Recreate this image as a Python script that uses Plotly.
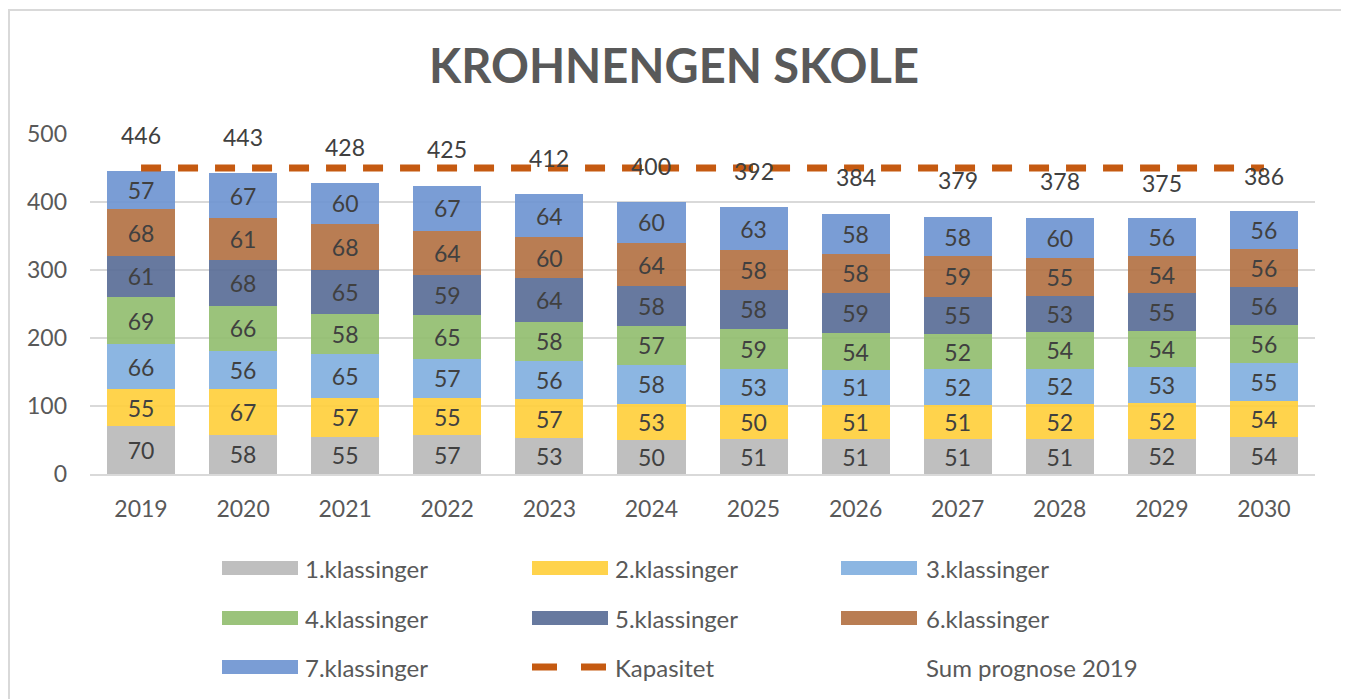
import plotly.graph_objects as go

years = ["2019", "2020", "2021", "2022", "2023", "2024", "2025", "2026", "2027", "2028", "2029", "2030"]
k1 = [70, 58, 55, 57, 53, 50, 51, 51, 51, 51, 52, 54]
k2 = [55, 67, 57, 55, 57, 53, 50, 51, 51, 52, 52, 54]
k3 = [66, 56, 65, 57, 56, 58, 53, 51, 52, 52, 53, 55]
k4 = [69, 66, 58, 65, 58, 57, 59, 54, 52, 54, 54, 56]
k5 = [61, 68, 65, 59, 64, 58, 58, 59, 55, 53, 55, 56]
k6 = [68, 61, 68, 64, 60, 64, 58, 58, 59, 55, 54, 56]
k7 = [57, 67, 60, 67, 64, 60, 63, 58, 58, 60, 56, 56]
totals = [446, 443, 428, 425, 412, 400, 392, 384, 379, 378, 375, 386]
capacity = [450] * 12

series_names = ["1.klassinger", "2.klassinger", "3.klassinger", "4.klassinger",
                "5.klassinger", "6.klassinger", "7.klassinger"]
series_vals = [k1, k2, k3, k4, k5, k6, k7]
colors = ["rgba(184,184,184,0.9)", "rgba(255,206,57,0.9)", "rgba(128,174,223,0.9)",
          "rgba(144,189,109,0.9)", "rgba(87,106,149,0.9)", "rgba(177,111,64,0.9)",
          "rgba(108,146,208,0.9)"]
cap_color = "#C55A11"
FONT = "Lato"

# page body has an 8px margin: positions below are screen pixels, shifted by OFF
OFF = 8
L, R, T, B = 90 - OFF, 1315 - OFF, 134 - OFF, 474 - OFF
W, H = 1349 - OFF, 699 - OFF


def xp(px):
    return (px - OFF - L) / (R - L)


def yp(py):
    return (B - (py - OFF)) / (B - T)


fig = go.Figure()
for name, vals, col in zip(series_names, series_vals, colors):
    fig.add_trace(go.Bar(
        x=years, y=vals, name=name, marker=dict(color=col, line=dict(width=0)),
        text=[str(v) for v in vals], textposition="inside", insidetextanchor="middle",
        textfont=dict(family=FONT, size=23, color="#404040"), constraintext="none",
        showlegend=False, hoverinfo="skip"))

fig.add_trace(go.Scatter(
    x=years, y=capacity, mode="lines", name="Kapasitet",
    line=dict(color=cap_color, width=7, dash="20px,17px"), showlegend=False, hoverinfo="skip"))

annotations = []
for i, t in enumerate(totals):
    annotations.append(dict(x=i, y=t, xref="x", yref="y", text=str(t), showarrow=False,
                            yshift=36, font=dict(family=FONT, size=23, color="#404040")))

shapes = []
# outer border
shapes.append(dict(type="rect", xref="paper", yref="paper", x0=xp(9), x1=xp(1342),
                   y0=yp(720), y1=yp(10), line=dict(color="#D9D9D9", width=2), layer="below"))

# manual legend (Excel style)
col_sw = [222, 532, 841]
col_tx = [303, 613, 924]
row_y = [568, 618, 667]
legend_items = [(n, c, "bar") for n, c in zip(series_names, colors)] + \
    [("Kapasitet", cap_color, "dash"), ("Sum prognose 2019", None, "none")]
for i, (name, col, kind) in enumerate(legend_items):
    r, c = divmod(i, 3)
    y = row_y[r]
    if kind == "bar":
        shapes.append(dict(type="rect", xref="paper", yref="paper",
                           x0=xp(col_sw[c]), x1=xp(col_sw[c] + 76), y0=yp(y + 7), y1=yp(y - 7),
                           fillcolor=col, line=dict(width=0)))
    elif kind == "dash":
        shapes.append(dict(type="line", xref="paper", yref="paper",
                           x0=xp(col_sw[c]), x1=xp(col_sw[c] + 75), y0=yp(y), y1=yp(y),
                           line=dict(color=col, width=7, dash="25px,24px")))
    annotations.append(dict(x=xp(col_tx[c]), y=yp(y),
                            xref="paper", yref="paper", text=name, showarrow=False,
                            xanchor="left", yanchor="middle",
                            font=dict(family=FONT, size=24, color="#595959")))

fig.update_layout(
    width=W, height=H,
    margin=dict(l=L, r=W - R, t=T, b=H - B),
    paper_bgcolor="white", plot_bgcolor="white",
    barmode="stack", bargap=0.333,
    title=dict(text="<b>KROHNENGEN SKOLE</b>", x=(674 - OFF) / W, xref="container", xanchor="center",
               y=1 - (67 - OFF) / H, yref="container", yanchor="middle",
               font=dict(family=FONT, size=47, color="#595959")),
    showlegend=False,
    annotations=annotations, shapes=shapes,
    font=dict(family=FONT, color="#595959"),
)
fig.update_xaxes(type="category", range=[-0.5, 11.5], showgrid=False, showline=True,
                 linecolor="#D9D9D9", linewidth=2,
                 ticks="", tickfont=dict(family=FONT, size=23, color="#595959"),
                 ticklabelstandoff=13, fixedrange=True)
fig.update_yaxes(range=[0, 500], tickvals=[0, 100, 200, 300, 400, 500], showgrid=True,
                 gridcolor="#D9D9D9", gridwidth=2, zeroline=False, showline=False, ticks="",
                 tickfont=dict(family=FONT, size=23, color="#595959"), ticklabelstandoff=22,
                 fixedrange=True)

fig.write_html("out.html")
